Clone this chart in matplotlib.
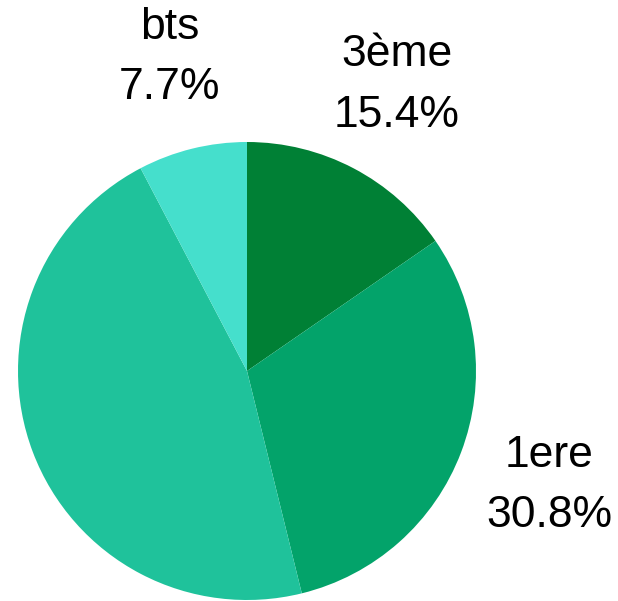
import matplotlib
matplotlib.use("Agg")
import matplotlib.pyplot as plt

names  = ["3ème", "1ere", "", "bts"]
counts = [2, 4, 6, 1]
colors = ["#008035", "#03a36a", "#1fc29b", "#45dfcc"]

total = sum(counts)
labels = [f"{n}\n{100 * c / total:.1f}%" if n else "" for n, c in zip(names, counts)]

plt.rcParams["font.family"] = ["Liberation Sans", "DejaVu Sans"]

fig = plt.figure(figsize=(6.18, 6.01), dpi=100)
ax = fig.add_axes([18 / 618, 1 / 601, 458 / 618, 458 / 601])

ax.pie(counts, labels=labels, colors=colors, startangle=90, counterclock=False,
       radius=1, labeldistance=1.41,
       wedgeprops=dict(linewidth=0),
       textprops=dict(ha="center", va="center", fontsize=32, linespacing=1.62))
ax.set_xlim(-1, 1)
ax.set_ylim(-1, 1)
ax.set_aspect("equal")
ax.axis("off")

fig.savefig("out.png", dpi=100)
